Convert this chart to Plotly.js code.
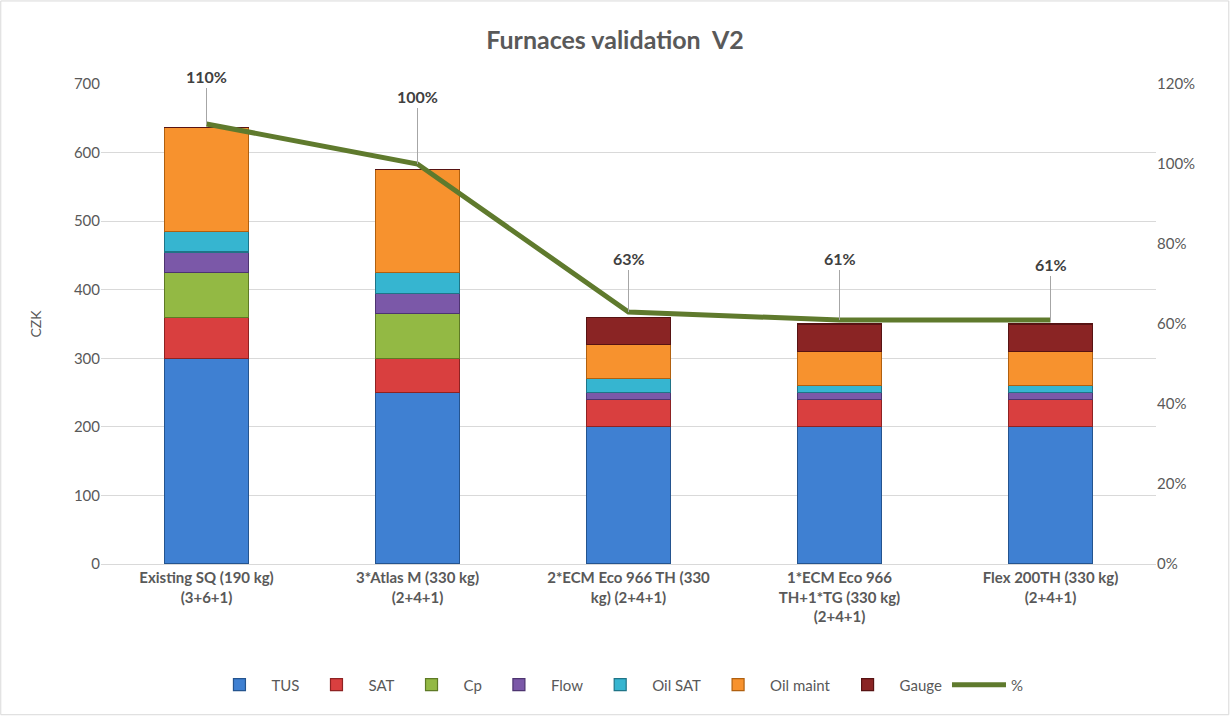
<!DOCTYPE html>
<html>
<head>
<meta charset="utf-8">
<script src="https://cdn.plot.ly/plotly-3.0.1.min.js"></script>
<style>
  html, body { margin: 0; padding: 0; background: #fff; }
  #chart { width: 1230px; height: 716px; }
</style>
</head>
<body>
<div id="chart"></div>
<script>
const categories = ['Existing SQ (190 kg)<br>(3+6+1)',
  '3*Atlas M (330 kg)<br>(2+4+1)',
  '2*ECM Eco 966 TH (330<br>kg) (2+4+1)',
  '1*ECM Eco 966<br>TH+1*TG (330 kg)<br>(2+4+1)',
  'Flex 200TH (330 kg)<br>(2+4+1)']

const tus = [300, 250, 200, 200, 200]
const sat = [60, 50, 40, 40, 40]
const cp = [65, 65, 0, 0, 0]
const flow = [30, 30, 10, 10, 10]
const oilSat = [30, 30, 20, 10, 10]
const oilMaint = [152, 150, 50, 50, 50]
const gauge = [0, 0, 40, 40, 40]

const pct = [1.10, 1.00, 0.63, 0.61, 0.61]
const pctLabels = ['110%', '100%', '63%', '61%', '61%']

const fontFamily = 'Lato, "Open Sans", sans-serif'
const grey = '#595959'

function barTrace(name, values, fill, edge) {
  return {
    x: categories,
    y: values,
    name: name,
    type: 'bar',
    marker: {color: fill, line: {color: edge, width: 1.2}},
    hoverinfo: 'y+name'
  }
}

var data = [
  barTrace('TUS', tus, '#3f80d2', '#24548f'),
  barTrace('SAT', sat, '#d93f3f', '#8e2222'),
  barTrace('Cp', cp, '#93b944', '#5e7a25'),
  barTrace('Flow', flow, '#7b58a8', '#4d3470'),
  barTrace('Oil SAT', oilSat, '#36b5d0', '#1f7487'),
  barTrace('Oil maint', oilMaint, '#f7922e', '#b0600f'),
  barTrace('Gauge', gauge, '#8a2424', '#571313'),
  {
    x: categories,
    y: pct,
    name: '%',
    type: 'scatter',
    mode: 'lines',
    yaxis: 'y2',
    line: {color: '#5f7a2d', width: 5},
    hoverinfo: 'y'
  }
]

// leader-line offsets for the % labels
var labelOffsets = [-36, -56, -42, -50, -44]

var annotations = pct.map(function (v, i) {
  return {
    x: categories[i],
    y: v,
    xref: 'x',
    yref: 'y2',
    text: '<b>' + pctLabels[i] + '</b>',
    showarrow: true,
    arrowhead: 0,
    arrowwidth: 1,
    arrowcolor: '#a6a6a6',
    ax: 0,
    ay: labelOffsets[i],
    yanchor: 'bottom',
    font: {family: fontFamily, size: 16, color: '#404040'}
  }
})

var layout = {
  width: 1230,
  height: 716,
  barmode: 'stack',
  bargap: 0.6,
  paper_bgcolor: '#ffffff',
  plot_bgcolor: '#ffffff',
  margin: {l: 101, r: 74, t: 84, b: 152},
  font: {family: fontFamily, size: 15, color: grey},
  title: {
    text: '<b>Furnaces validation  V2</b>',
    x: 0.5,
    xanchor: 'center',
    y: 0.944,
    yanchor: 'middle',
    font: {family: fontFamily, size: 25, color: grey}
  },
  xaxis: {
    tickfont: {family: fontFamily, size: 15, color: grey, weight: 'bold'},
    ticks: '',
    showline: true,
    linecolor: '#d9d9d9',
    automargin: false
  },
  yaxis: {
    range: [0, 700],
    dtick: 100,
    gridcolor: '#d9d9d9',
    zeroline: false,
    ticks: '',
    ticklen: 0,
    tickfont: {family: fontFamily, size: 15, color: grey},
    title: {text: 'CZK', standoff: 28, font: {family: fontFamily, size: 14, color: grey}},
    automargin: false
  },
  yaxis2: {
    overlaying: 'y',
    side: 'right',
    range: [0, 1.2],
    dtick: 0.2,
    tickformat: '.0%',
    showgrid: false,
    zeroline: false,
    tickfont: {family: fontFamily, size: 15, color: grey},
    automargin: false
  },
  legend: {
    orientation: 'h',
    x: 0.49,
    xanchor: 'center',
    y: -0.252,
    yanchor: 'middle',
    font: {family: fontFamily, size: 15, color: grey},
    itemwidth: 54,
    traceorder: 'normal'
  },
  annotations: annotations,
  shapes: [{
    type: 'rect',
    xref: 'paper', yref: 'paper',
    x0: -0.095, x1: 1.069, y0: -0.314, y1: 1.173,
    line: {color: '#d9d9d9', width: 1}
  }],
  showlegend: true
}

Plotly.newPlot('chart', data, layout, {displayModeBar: false})
</script>
</body>
</html>
